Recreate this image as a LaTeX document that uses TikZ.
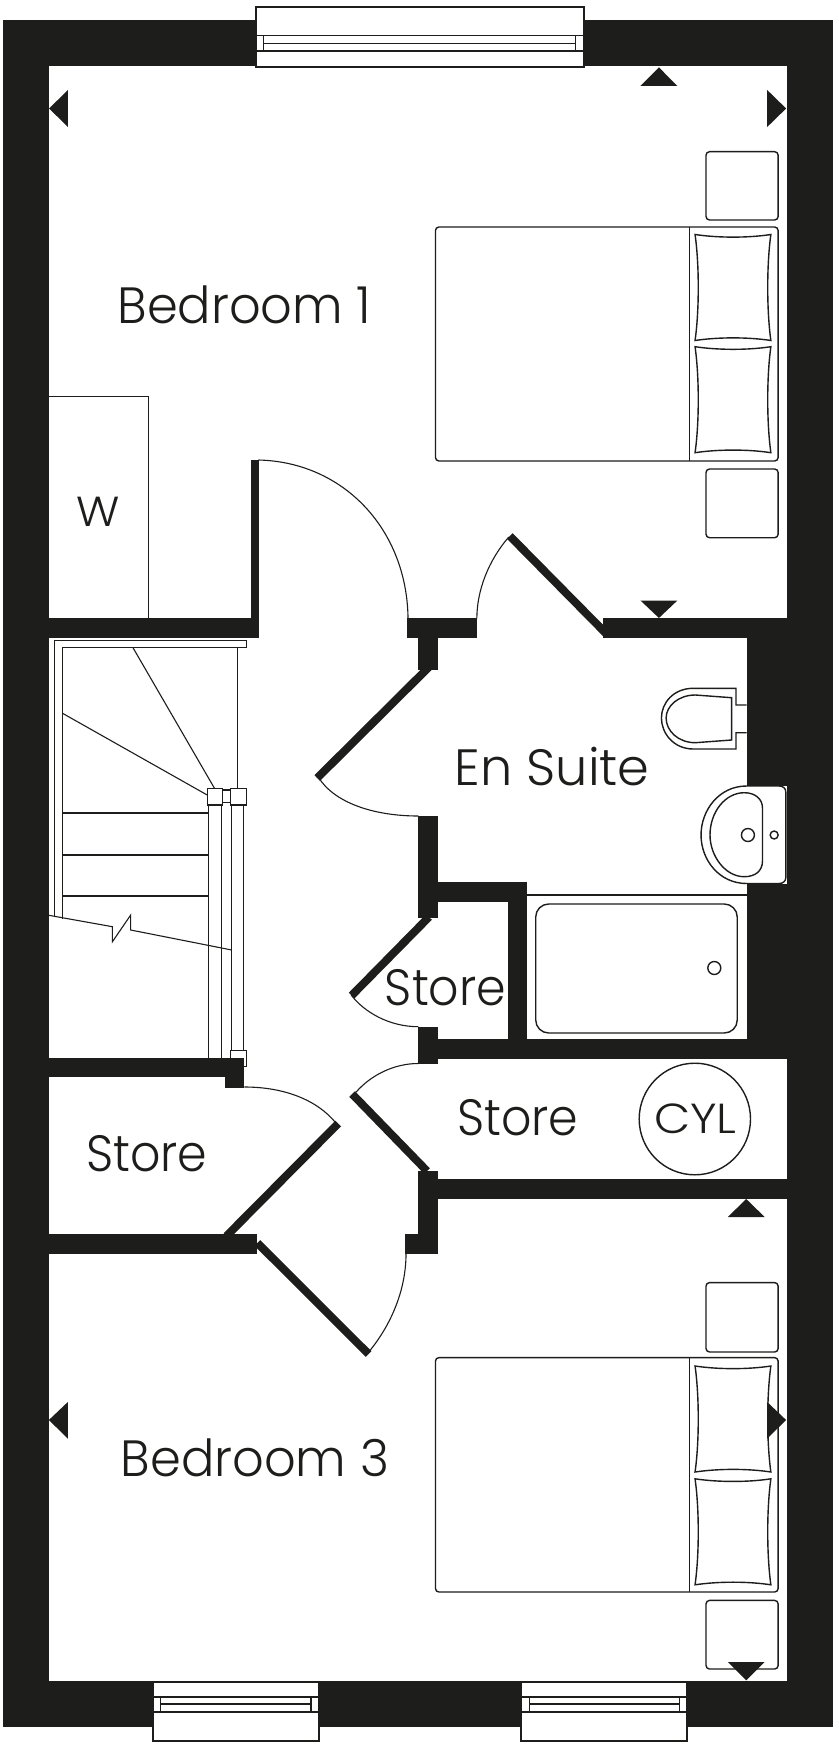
\documentclass[tikz,border=0pt]{standalone}
\usepackage{fontspec}
\setmainfont{Poppins}[UprightFont=* Light]
\definecolor{ink}{HTML}{1D1D1B}
\tikzset{
  wall/.style={fill=ink,draw=none},
  ln/.style={draw=ink,line width=1.3pt},
  thinln/.style={draw=ink,line width=1.1pt},
  leaf/.style={draw=ink,line width=8pt,line cap=butt},
  swing/.style={draw=ink,line width=1.1pt},
  furn/.style={draw=ink,line width=1.4pt,fill=white,rounded corners=3.5pt},
  framed/.style={draw=ink,line width=1.8pt,fill=white},
  pointer/.style={fill=ink,draw=none},
  lab/.style={anchor=base,inner sep=0pt,text=ink,font=\fontsize{51}{51}\selectfont},
  smalllab/.style={anchor=base,inner sep=0pt,text=ink,font=\fontsize{42}{42}\selectfont},
}
\newcommand{\pillowat}[1]{%
  \begin{scope}[shift={(0,#1)}]
  \draw[draw=ink,line width=1.4pt,line join=miter]
    (696.7,0) .. controls (720,3.5) and (750,3.5) .. (772.7,0)
    .. controls (768.5,30) and (768.5,76) .. (772.7,106)
    .. controls (750,102.5) and (720,102.5) .. (696.7,106)
    .. controls (701,76) and (701,30) .. (696.7,0) -- cycle;
  \end{scope}}
\begin{document}
\begin{tikzpicture}[x=0.99762pt,y=-1pt]
\useasboundingbox (0,0) rectangle (840,1744);
\fill[white] (0,0) rectangle (840,1744);
% outer walls
\fill[wall] (3,20) rectangle (835,66.5);
\fill[wall] (3,1680.7) rectangle (835,1726.7);
\fill[wall] (3,20) rectangle (49,1726.7);
\fill[wall] (788.5,20) rectangle (835,1726.7);
% internal walls
\fill[wall] (49,618.4) rectangle (260,637.5);
\fill[wall] (252,460) rectangle (259.5,618.4);
\fill[wall] (408,618.4) rectangle (478,637.5);
\fill[wall] (604,618.4) rectangle (788.5,637.5);
\fill[wall] (748.3,618.4) rectangle (788.5,1058.5);
\fill[wall] (419.3,637) rectangle (439,669.6);
\fill[wall] (419.3,816) rectangle (439,917.6);
\fill[wall] (439,882) rectangle (528.7,901.6);
\fill[wall] (509,882) rectangle (528.7,1040);
\fill[wall] (419.3,1039.3) rectangle (788.5,1058.5);
\fill[wall] (419.3,1026.7) rectangle (439,1063.5);
\fill[wall] (419.3,1171) rectangle (439,1253.5);
\fill[wall] (439,1179) rectangle (788.5,1198.7);
\fill[wall] (406,1234) rectangle (439,1253.5);
\fill[wall] (49,1058) rectangle (245,1077);
\fill[wall] (226,1058) rectangle (245,1088);
\fill[wall] (49,1234) rectangle (258,1253.5);
% door leaves
\draw[leaf] (318,778) -- (430,667);
\draw[leaf] (511,536) -- (608,634);
\draw[leaf] (352.5,995.5) -- (430,917);
\draw[leaf] (353,1094) -- (428,1171);
\draw[leaf] (339,1123.5) -- (227,1236);
\draw[leaf] (258,1243) -- (369.5,1354);
% door swings
\draw[swing] (259,460) .. controls (345,462) and (408,530) .. (409,618.4);
\draw[swing] (510,537) .. controls (490,560) and (478,590) .. (478,618.4);
\draw[swing] (319,777) .. controls (335,803) and (375,816) .. (419.3,816);
\draw[swing] (352,995) .. controls (365,1012) and (390,1026.7) .. (419.3,1026.7);
\draw[swing] (357,1092) .. controls (372,1075) and (395,1063.5) .. (419.3,1063.5);
\draw[swing] (245,1087) .. controls (285,1087) and (318,1100) .. (336.7,1123);
\draw[swing] (369.6,1352) .. controls (392,1325) and (407,1290) .. (407,1253.5);
% windows
\draw[framed] (257,7.3) rectangle (585.7,66.7);
\draw[ln] (257,35.7) -- (585.7,35.7) (264.3,43.3) -- (577,43.3) (257,51) -- (585.7,51)
  (264.3,35.7) -- (264.3,51) (577,35.7) -- (577,51);
\draw[framed] (153,1681.7) rectangle (319.4,1740.7);
\draw[framed] (153,1696.7) -- (319.4,1696.7) (153,1711.7) -- (319.4,1711.7);
\draw[ln] (160.6,1704) -- (311.8,1704) (160.6,1696.7) -- (160.6,1711.7) (311.8,1696.7) -- (311.8,1711.7);
\draw[framed] (522.3,1681.7) rectangle (688.7,1740.7);
\draw[framed] (522.3,1696.7) -- (688.7,1696.7) (522.3,1711.7) -- (688.7,1711.7);
\draw[ln] (530.7,1704) -- (681,1704) (530.7,1696.7) -- (530.7,1711.7) (681,1696.7) -- (681,1711.7);
% wardrobe
\draw[ln] (49,396.5) -- (149,396.5) -- (149,618.4);
% bedroom 1 furniture
\draw[furn] (707.7,151.7) rectangle (780,220);
\draw[furn] (707.7,469) rectangle (780,537.7);
\draw[furn] (436.5,227) rectangle (780,461);
\draw[ln] (691,227) -- (691,461);
\pillowat{234.5}\pillowat{346.7}
% bedroom 3 furniture
\draw[furn] (707.7,1282.6) rectangle (780,1352);
\draw[furn] (707.7,1600.4) rectangle (780,1669);
\draw[furn] (436.5,1357.6) rectangle (780,1592);
\draw[ln] (691,1357.6) -- (691,1592);
\pillowat{1366}\pillowat{1478.8}
% direction markers
\fill[pointer] (660.5,67.4) -- (679,86) -- (642,86) -- cycle;
\fill[pointer] (49.3,108.5) -- (68,90) -- (68,127) -- cycle;
\fill[pointer] (788,108.5) -- (769,90) -- (769,127) -- cycle;
\fill[pointer] (660.5,618) -- (679,600.5) -- (642,600.5) -- cycle;
\fill[pointer] (748,1199) -- (766.5,1217) -- (729.5,1217) -- cycle;
\fill[pointer] (49,1420) -- (68,1402) -- (68,1438.6) -- cycle;
\fill[pointer] (788,1420) -- (769,1402) -- (769,1438.6) -- cycle;
\fill[pointer] (748,1680.3) -- (766.5,1662) -- (729.5,1662) -- cycle;
% stairs
\draw[thinln] (54.3,916.5) -- (54.3,640.3) -- (246.7,640.3) -- (246.7,647.7) -- (62.7,647.7) -- (62.7,918.5);
\draw[thinln] (238.3,647.7) -- (238.3,788.3);
\draw[thinln] (133.3,647.7) -- (215,788.3);
\draw[thinln] (62.7,713.3) -- (207.7,795);
\draw[thinln] (62.7,813) -- (209.3,813) (62.7,855) -- (209.3,855) (62.7,896) -- (209.3,896);
\draw[thinln] (209.3,805) -- (209.3,1058) (221.7,805) -- (221.7,1058);
\draw[thinln] (232.3,805) -- (232.3,1050.7) (244.3,805) -- (244.3,1050.7);
\draw[thinln] (207.7,788.3) rectangle (223.3,805);
\draw[thinln] (231,788.3) rectangle (246.7,805);
\draw[thinln] (223.3,790) rectangle (231,802.3);
\fill[white] (231,1050.7) rectangle (246.7,1058);
\draw[thinln] (231,1058) -- (231,1050.7) -- (246.7,1050.7) -- (246.7,1066.7) -- (245,1066.7);
\draw[thinln] (49,915.3) -- (112.7,926.7) -- (112.7,941.7) -- (131,915) -- (131,930) -- (232.3,950);
% en suite fittings
\draw[draw=ink,line width=1.4pt,fill=white] (748.3,705) -- (737.7,705) -- (737.7,688.3) -- (695,688.3)
  .. controls (675,688.3) and (663,703) .. (663,718) .. controls (663,733) and (675,749) .. (695,749)
  -- (737.7,749) -- (737.7,732.7) -- (748.3,732.7);
\draw[draw=ink,line width=1.4pt] (733.3,697.7) -- (697,695)
  .. controls (680,695) and (667.7,706) .. (667.7,718) .. controls (667.7,731) and (680,742.7) .. (697,742.7)
  -- (733.3,740) -- cycle;
\fill[white] (748.3,786) rectangle (789,883.7);
\draw[draw=ink,line width=1.4pt,fill=white] (748.3,786) -- (781,786)
  .. controls (785,786) and (787.7,788.5) .. (787.7,792) -- (787.7,877.5)
  .. controls (787.7,881) and (785,883.5) .. (781,883.5) -- (748.3,883.5)
  .. controls (721,883.5) and (702.7,860) .. (702.7,835) .. controls (702.7,810) and (721,786) .. (748.3,786) -- cycle;
\draw[draw=ink,line width=1.4pt] (746,792.7)
  .. controls (757,792.7) and (764.3,799) .. (764.3,808) -- (764.3,861)
  .. controls (764.3,871) and (757,876.7) .. (746,876.7)
  .. controls (727,876.7) and (711.7,856) .. (711.7,835)
  .. controls (711.7,812) and (727,792.7) .. (746,792.7) -- cycle;
\draw[draw=ink,line width=1.4pt] (749.7,835) circle[radius=6.5];
\draw[draw=ink,line width=1.4pt] (776,835) circle[radius=4];
\draw[ln] (528.7,895) -- (748.3,895);
\draw[draw=ink,line width=1.4pt,rounded corners=13pt] (537,904) rectangle (739,1033);
\draw[draw=ink,line width=1.4pt] (716,968) circle[radius=6.5];
% cylinder
\draw[draw=ink,line width=1.4pt] (696.5,1119) circle[radius=55.8];
% labels
\node[lab] (bed1) at (245,323) {\scalebox{.97}[1]{Bedroom 1}};
\node[lab] (ensuite) at (553.5,785) {En Suite};
\node[lab] (storea) at (446.5,1005.6) {\scalebox{.93}[1]{Store}};
\node[lab] (storeb) at (519,1135.4) {\scalebox{.93}[1]{Store}};
\node[lab] (storec) at (147,1171) {\scalebox{.93}[1]{Store}};
\node[lab] (bed3) at (255.5,1476) {\scalebox{.97}[1]{Bedroom 3}};
\node[smalllab] (cyl) at (697,1133) {\scalebox{1.12}[1]{CYL}};
\node[smalllab] (wd) at (98,526) {\scalebox{1.08}[1]{W}};
\end{tikzpicture}
\end{document}
